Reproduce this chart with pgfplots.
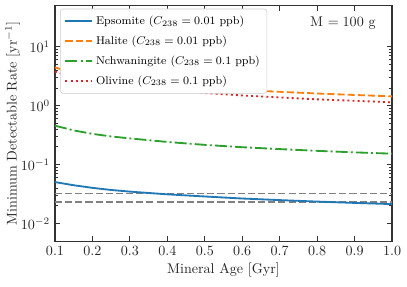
\documentclass[border=0pt]{standalone}
\usepackage{pgfplots}
\pgfplotsset{compat=1.18}
\definecolor{tabblue}{HTML}{1F77B4}
\definecolor{taborange}{HTML}{FF7F0E}
\definecolor{tabgreen}{HTML}{2CA02C}
\definecolor{tabred}{HTML}{D62728}
\tikzset{
  sEps/.style={tabblue, line width=1.3pt, solid},
  sHal/.style={taborange, line width=1.3pt, dash pattern=on 5pt off 2.2pt},
  sNch/.style={tabgreen, line width=1.3pt, dash pattern=on 8.5pt off 2.2pt on 1.4pt off 2.2pt},
  sOli/.style={tabred, line width=1.3pt, dash pattern=on 1.4pt off 2.2pt},
  sRef/.style={gray, line width=1.1pt, dash pattern=on 5pt off 2.2pt},
}
\begin{document}
\begin{tikzpicture}
\begin{axis}[
  scale only axis,
  width=239pt, height=167pt,
  xmin=0.1, xmax=1.0,
  ymode=log, ymin=0.005, ymax=50,
  xtick={0.1,0.2,...,1.0},
  xticklabels={0.1,0.2,0.3,0.4,0.5,0.6,0.7,0.8,0.9,1.0},
  ytick={0.01,0.1,1,10},
  tick align=inside,
  major tick length=3.8pt, minor tick length=2.2pt,
  xtick pos=both, ytick pos=both,
  axis line style={black!80, line width=0.8pt},
  every tick/.style={black!80, line width=0.6pt},
  tick label style={black!85},
  label style={black!85},
  xlabel={Mineral Age [Gyr]},
  ylabel={Minimum Detectable Rate [yr$^{-1}$]},
  xlabel style={yshift=2pt},
  ylabel style={yshift=-6.5pt},
  legend style={at={(0.015,0.987)}, anchor=north west, draw=black!20, fill=white, rounded corners=2pt, font=\footnotesize, row sep=2.6pt, inner xsep=3pt, inner ysep=3pt},
  legend cell align=left,
  legend image code/.code={\draw[#1] (0pt,0pt) -- (19pt,0pt);},
]
\addlegendimage{sEps}
\addlegendentry{Epsomite ($C_{238} = 0.01$ ppb)}
\addlegendimage{sHal}
\addlegendentry{Halite ($C_{238} = 0.01$ ppb)}
\addlegendimage{sNch}
\addlegendentry{Nchwaningite ($C_{238} = 0.1$ ppb)}
\addlegendimage{sOli}
\addlegendentry{Olivine ($C_{238} = 0.1$ ppb)}
\addplot[sRef, forget plot] coordinates {(0.1,0.0323) (1.0,0.0323)};
\addplot[sRef, forget plot] coordinates {(0.1,0.0230) (1.0,0.0230)};
\addplot[sEps, forget plot] coordinates {
(0.10,0.0504) (0.15,0.0445) (0.20,0.0402) (0.25,0.0370) (0.30,0.0347) (0.40,0.0312) (0.50,0.0287) (0.60,0.0265) (0.70,0.0249) (0.80,0.0235) (0.90,0.0223) (1.00,0.0213)};
\addplot[sHal, forget plot] coordinates {
(0.10,4.45) (0.15,3.65) (0.20,3.20) (0.25,2.87) (0.30,2.62) (0.40,2.26) (0.50,2.03) (0.60,1.85) (0.70,1.72) (0.80,1.61) (0.90,1.52) (1.00,1.44)};
\addplot[sNch, forget plot] coordinates {
(0.10,0.457) (0.15,0.380) (0.20,0.332) (0.25,0.300) (0.30,0.278) (0.40,0.242) (0.50,0.216) (0.60,0.197) (0.70,0.183) (0.80,0.171) (0.90,0.161) (1.00,0.153)};
\addplot[sOli, forget plot] coordinates {
(0.10,3.79) (0.15,3.08) (0.20,2.66) (0.25,2.37) (0.30,2.14) (0.40,1.85) (0.50,1.64) (0.60,1.49) (0.70,1.38) (0.80,1.28) (0.90,1.21) (1.00,1.14)};
\node[anchor=north east, black!85, inner sep=0pt] at (axis description cs:0.952,0.955) {M $=100$ g};
\end{axis}
\pgfresetboundingbox
\path (current axis.south west)+(-39pt,-32pt) rectangle ([shift={(10.6pt,4pt)}]current axis.north east);
\end{tikzpicture}
\end{document}
